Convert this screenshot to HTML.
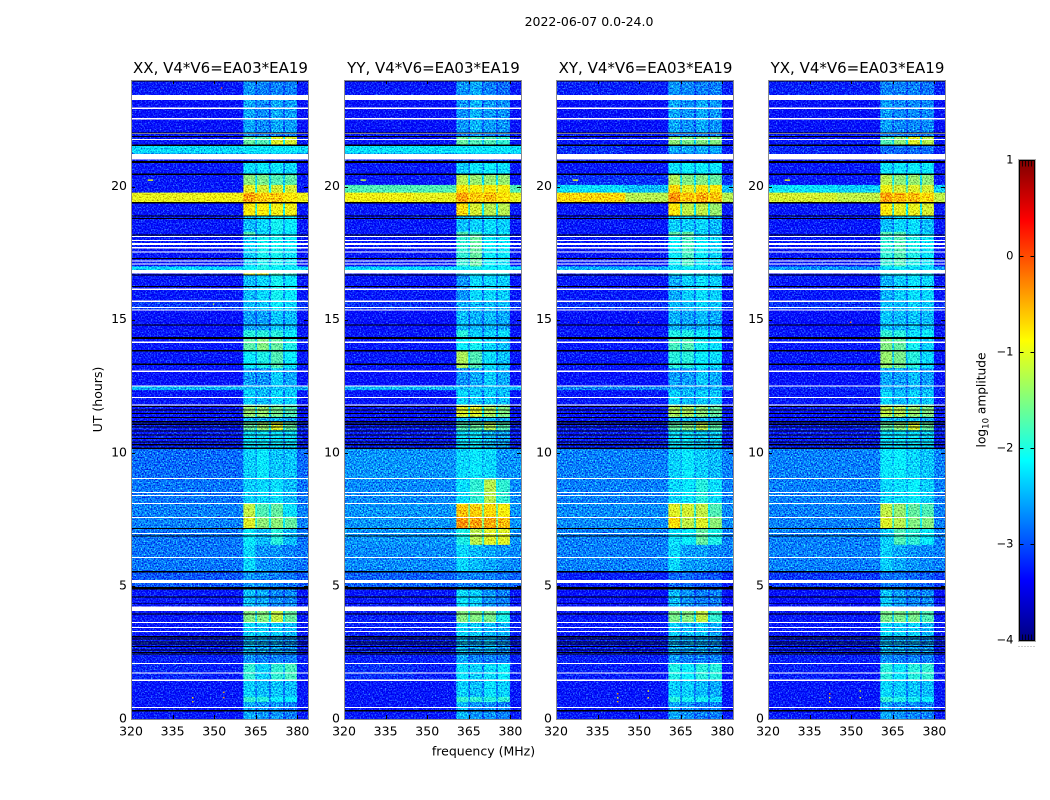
<!DOCTYPE html>
<html>
<head>
<meta charset="utf-8">
<title>2022-06-07 dynamic spectra</title>
<style>
html,body{margin:0;padding:0;background:#fff;}
svg{display:block;}
text{font-family:"DejaVu Sans",sans-serif;fill:#000;}
.tick{font-size:12.5px;}
.title{font-size:15px;}
</style>
</head>
<body>
<svg id="chart" xmlns="http://www.w3.org/2000/svg" width="1050" height="800" viewBox="0 0 1050 800">
  <defs>
    <filter id="cell-noise" x="0" y="0" width="100%" height="100%" color-interpolation-filters="sRGB">
      <feTurbulence type="fractalNoise" baseFrequency="0.68" numOctaves="2" seed="7" result="raw"/>
      <feColorMatrix in="raw" type="matrix" values="0.8 0 0 0 0.1  1.7 0 0 0 -0.35  0.6 0 0 0 0.2  0 0 0 0 1" result="grain"/>
      <feComposite in="SourceGraphic" in2="grain" operator="arithmetic" k1="0" k2="1" k3="1" k4="-0.5"/>
    </filter>
    <linearGradient id="colorbar-gradient" x1="0" y1="1" x2="0" y2="0"></linearGradient>
  </defs>
  <text x="589" y="26" text-anchor="middle" class="tick">2022-06-07 0.0-24.0</text>
  <text x="483.5" y="755.5" text-anchor="middle" class="tick">frequency (MHz)</text>
  <text transform="translate(102,399.5) rotate(-90)" text-anchor="middle" class="tick">UT (hours)</text>
  <text transform="translate(985.5,400) rotate(-90)" text-anchor="middle" font-size="12.2">log<tspan dy="3" font-size="8.5">10</tspan><tspan dy="-3"> amplitude</tspan></text>
  <g id="panels"></g>
  <g id="colorbar"></g>
</svg>
<script>
// Time edges of each row, hours UT, top to bottom.
const rowEdges = [24,23.25,22,21.87,21.55,21.23,20.9,20.43,20.06,19.77,19.39,18.9,18.3,18.18,17,16.86,16.68,15.7,15.36,14.6,14.31,13.83,13.18,12.5,12.35,11.79,11.35,11.17,10.85,10.17,9,8.1,7.6,7.15,6.54,5.53,4.91,4.22,3.63,3.09,2.44,2.09,1.46,0.83,0.64,0];

// Each row: log10 amplitude for [background 320-345, background 345-360, band1, band2, band3, band4]
const seriesXX = [
[-3.3,-3.3,-2.65,-2.75,-2.75,-2.75],[-3.35,-3.35,-2.55,-2.7,-2.55,-2.6],[-3.3,-3.3,-2.75,-2.75,-2.75,-2.75],[-3.3,-3.3,-1.65,-1.75,-1.05,-1.1],
[-2.3,-2.3,-2.2,-2.2,-2.2,-2.2],[-3.3,-3.3,-3.1,-3.1,-3.1,-3.1],[-3.3,-3.3,-2.25,-2.2,-2.2,-2.3],[-3.3,-3.3,-1.45,-1.55,-1.75,-1.7],
[-3.3,-3.3,-1,-1.1,-1.1,-1.1],[-1,-0.95,-0.4,-0.6,-0.6,-0.8],[-3.3,-3.3,-0.85,-0.85,-0.95,-0.95],[-3.3,-3.3,-2.45,-2.3,-2.05,-2.15],
[-3.3,-3.3,-1.75,-2.35,-2.15,-2.25],[-3.3,-3.3,-2.35,-2.05,-2.05,-2.2],[-2.3,-2.3,-2.1,-2,-2.1,-2.1],[-3.3,-3.3,-1,-1,-1.75,-1.9],
[-3.3,-3.3,-2.45,-2.3,-2.05,-2.2],[-3.1,-3.1,-2.45,-2.4,-2.2,-2.3],[-3.35,-3.35,-2.6,-2.6,-2.4,-2.45],[-3.3,-3.3,-1.95,-1.95,-1.95,-2.15],
[-3.3,-3.3,-1.7,-1.5,-1.65,-2],[-3.3,-3.3,-2.15,-2,-1.75,-2.15],[-3.35,-3.35,-2.6,-2.65,-2.35,-2.55],[-2.5,-2.5,-2.45,-2.45,-2.45,-2.45],
[-3.3,-3.3,-2.35,-2.45,-2.3,-2.35],[-3.3,-3.3,-1.4,-1.4,-1.55,-1.75],[-3.3,-3.3,-2.45,-2.45,-2.45,-2.55],[-3.25,-3.25,-1.65,-1.4,-1.05,-1.65],
[-3.25,-3.25,-2.2,-2.2,-2.25,-2.25],[-2.85,-2.85,-2.35,-2.2,-2.4,-2.4],[-2.8,-2.8,-2.35,-2.3,-2.25,-2.45],[-2.75,-2.75,-1.2,-1.75,-1.65,-2.25],
[-2.75,-2.75,-1.05,-1.45,-1.45,-1.65],[-2.8,-2.8,-2.2,-2.45,-1.95,-2.45],[-2.8,-2.8,-2.3,-2.65,-2.65,-2.75],[-2.95,-2.95,-2.65,-2.7,-2.75,-2.8],
[-3.3,-3.3,-2.45,-2.55,-2.7,-2.7],[-3.3,-3.3,-1.5,-1.5,-1.2,-1.65],[-3.3,-3.3,-2.3,-2.35,-2.35,-2.45],[-3.25,-3.25,-2.45,-2.55,-2.55,-2.65],
[-3.25,-3.25,-2.65,-2.75,-2.75,-2.75],[-3.2,-3.25,-1.9,-2.35,-1.9,-1.8],[-3.3,-3.3,-2.35,-2.45,-2.4,-2.45],[-3.3,-3.3,-1.9,-1.95,-2.15,-2.15],[-3.3,-3.3,-2.55,-2.65,-2.65,-2.75]
];
const seriesYY = [
[-3.3,-3.3,-2.65,-2.55,-2.75,-2.85],[-3.35,-3.35,-2.65,-2.5,-2.6,-2.65],[-3.3,-3.3,-2.75,-2.65,-2.75,-2.75],[-3.3,-3.3,-1.65,-1.75,-1.75,-1.9],
[-2.25,-2.25,-2.2,-2.2,-2.2,-2.2],[-3.3,-3.3,-3.1,-3.1,-3.1,-3.1],[-3.3,-3.3,-2.35,-2.2,-2.15,-2.25],[-3.3,-3.3,-1.25,-1.4,-1.4,-1.4],
[-1.75,-1.75,-0.8,-0.85,-0.85,-0.9],[-0.95,-1,-0.4,-0.6,-0.55,-0.75],[-3.3,-3.3,-0.75,-1.1,-1.25,-1.25],[-3.3,-3.3,-2.45,-2.35,-2.25,-2.35],
[-3.3,-3.3,-1.75,-1.9,-2.25,-2.25],[-3.3,-3.3,-1.9,-1.65,-2.15,-2.2],[-2.3,-2.3,-2.15,-2.05,-2.15,-2.15],[-3.3,-3.3,-2.25,-2.15,-2.15,-2.15],
[-3.3,-3.3,-2.65,-2.3,-2.3,-2.35],[-3.15,-3.15,-2.55,-2.45,-2.45,-2.45],[-3.35,-3.35,-2.45,-2.5,-2.45,-2.55],[-3.3,-3.3,-1.95,-2.35,-2.35,-2.25],
[-3.3,-3.3,-2.15,-2.05,-2.3,-2.45],[-3.3,-3.3,-1.3,-1.75,-2.25,-2.4],[-3.35,-3.35,-2.65,-2.55,-2.35,-2.55],[-2.5,-2.5,-2.45,-2.45,-2.45,-2.45],
[-3.3,-3.3,-2.3,-2.4,-2.35,-2.45],[-3.3,-3.3,-1.05,-1.05,-1.3,-1.5],[-3.3,-3.3,-2.45,-2.45,-2.45,-2.55],[-3.25,-3.25,-1.75,-1.65,-1.3,-1.75],
[-3.25,-3.25,-2.25,-2.2,-2.45,-2.55],[-2.65,-2.65,-2.3,-2.2,-2.3,-2.65],[-2.7,-2.7,-2.25,-1.9,-1.25,-1.9],[-2.65,-2.65,-0.6,-0.65,-0.7,-0.9],
[-2.65,-2.65,-0.35,-0.4,-0.45,-0.55],[-2.65,-2.65,-2,-1.25,-1.05,-1.05],[-2.7,-2.7,-2.3,-2.45,-2.55,-2.65],[-2.9,-2.9,-2.75,-2.75,-2.75,-2.8],
[-3.3,-3.3,-2.25,-2.35,-2.65,-2.75],[-3.25,-3.25,-1.5,-1.5,-1.55,-2],[-3.25,-3.25,-2.3,-2.35,-2.45,-2.5],[-3.25,-3.25,-2.45,-2.55,-2.45,-2.65],
[-3.25,-3.25,-2.55,-2.75,-2.75,-2.75],[-3.15,-3.25,-2.25,-2.35,-2.25,-2.15],[-3.3,-3.3,-2.35,-2.45,-2.25,-2.35],[-3.3,-3.3,-1.9,-1.9,-1.95,-1.9],[-3.3,-3.3,-2.45,-2.65,-2.65,-2.75]
];
const seriesXY = [
[-3.25,-3.25,-2.65,-2.7,-2.75,-2.75],[-3.35,-3.35,-2.55,-2.65,-2.55,-2.65],[-3.3,-3.3,-2.75,-2.75,-2.75,-2.75],[-3.3,-3.3,-1.45,-1.55,-1.5,-1.5],
[-3.15,-3.25,-2.55,-2.55,-2.55,-2.55],[-3.3,-3.3,-3.1,-3.1,-3.1,-3.1],[-3.3,-3.3,-2.25,-2.15,-2.15,-2.2],[-3.15,-3.15,-1.3,-1.5,-1.5,-1.65],
[-2.25,-2.45,-0.7,-1,-0.8,-0.8],[-0.7,-1.25,-0.35,-0.55,-0.45,-0.6],[-3.3,-3.3,-0.8,-1.2,-1.2,-1.4],[-3.3,-3.3,-2.35,-2.35,-2.3,-2.45],
[-3.3,-3.3,-1.7,-1.65,-2.35,-2.45],[-3.3,-3.3,-2.15,-1.8,-2.15,-2.3],[-2.5,-2.5,-2.25,-2.15,-2.25,-2.25],[-3.3,-3.3,-2.15,-2.15,-2.25,-2.25],
[-3.3,-3.3,-2.55,-2.35,-2.25,-2.35],[-3.15,-3.15,-2.45,-2.45,-2.3,-2.4],[-3.35,-3.35,-2.5,-2.55,-2.45,-2.55],[-3.3,-3.3,-2,-2,-2.2,-2.25],
[-3.3,-3.3,-1.8,-1.75,-2.05,-2.25],[-3.3,-3.3,-1.95,-1.95,-2.15,-2.25],[-3.35,-3.35,-2.6,-2.6,-2.4,-2.55],[-2.75,-2.75,-2.55,-2.55,-2.55,-2.55],
[-3.3,-3.3,-2.35,-2.45,-2.35,-2.4],[-3.3,-3.3,-1.3,-1.3,-1.45,-1.65],[-3.3,-3.3,-2.45,-2.45,-2.45,-2.55],[-3.25,-3.25,-1.7,-1.5,-1.25,-1.7],
[-3.25,-3.25,-2.25,-2.2,-2.35,-2.35],[-2.75,-2.75,-2.35,-2.2,-2.35,-2.45],[-2.75,-2.75,-2.3,-2.2,-1.95,-2.25],[-2.7,-2.7,-1.05,-1.1,-1.2,-1.75],
[-2.7,-2.7,-0.75,-1.2,-1.05,-1.45],[-2.75,-2.75,-2.25,-2.15,-1.65,-2],[-2.75,-2.75,-2.3,-2.6,-2.6,-2.7],[-3.25,-3.25,-2.85,-2.85,-2.95,-2.95],
[-3.35,-3.35,-2.45,-2.65,-2.75,-2.75],[-3.3,-3.3,-1.55,-1.5,-1.2,-1.9],[-3.3,-3.3,-2.35,-2.45,-2.4,-2.55],[-3.25,-3.25,-2.5,-2.55,-2.55,-2.65],
[-3.25,-3.25,-2.65,-2.75,-2.75,-2.75],[-3.25,-3.3,-2,-2.15,-1.95,-1.95],[-3.3,-3.3,-2.35,-2.35,-2.45,-2.55],[-3.3,-3.3,-1.95,-2.05,-2.05,-2.25],[-3.3,-3.3,-2.55,-2.65,-2.75,-2.75]
];
const seriesYX = [
[-3.25,-3.25,-2.75,-2.75,-2.75,-2.8],[-3.35,-3.35,-2.6,-2.7,-2.7,-2.7],[-3.3,-3.3,-2.75,-2.75,-2.75,-2.75],[-3.3,-3.3,-1.75,-1.45,-1.05,-1.25],
[-3.2,-3.25,-2.85,-2.85,-2.85,-2.85],[-3.3,-3.3,-3.1,-3.1,-3.1,-3.1],[-3.3,-3.3,-2.25,-2.2,-2.15,-2.2],[-3.3,-3.3,-1.25,-1.45,-1.4,-1.45],
[-2.25,-2.35,-0.95,-1.1,-1.05,-1.1],[-1.1,-1.2,-0.4,-0.5,-0.55,-0.7],[-3.3,-3.3,-0.8,-1,-1,-1.1],[-3.3,-3.3,-2.45,-2.3,-2.25,-2.45],
[-3.3,-3.3,-1.75,-1.75,-2.25,-2.35],[-3.3,-3.3,-1.9,-1.75,-2,-2.2],[-2.65,-2.65,-2.25,-2.15,-2.25,-2.25],[-3.3,-3.3,-2.15,-2.05,-2.15,-2.2],
[-3.3,-3.3,-2.5,-2.35,-2.25,-2.3],[-3.15,-3.15,-2.45,-2.45,-2.35,-2.4],[-3.35,-3.35,-2.4,-2.45,-2.4,-2.45],[-3.3,-3.3,-1.9,-1.95,-2.25,-2.15],
[-3.3,-3.3,-1.5,-1.65,-2.05,-2.35],[-3.3,-3.3,-1.4,-1.55,-1.95,-2.3],[-3.35,-3.35,-2.55,-2.6,-2.45,-2.6],[-3.2,-3.2,-2.55,-2.55,-2.55,-2.55],
[-3.3,-3.3,-2.3,-2.45,-2.35,-2.4],[-3.3,-3.3,-1.2,-1.25,-1.4,-1.5],[-3.3,-3.3,-2.45,-2.45,-2.45,-2.55],[-3.25,-3.25,-1.65,-1.45,-1.1,-1.65],
[-3.25,-3.25,-2.25,-2.2,-2.25,-2.3],[-2.75,-2.75,-2.2,-2.15,-2.3,-2.4],[-2.75,-2.75,-2.3,-2.25,-2.15,-2.35],[-2.75,-2.75,-1.2,-1.4,-1.65,-1.75],
[-2.75,-2.75,-1.05,-1.25,-1.5,-1.5],[-2.75,-2.75,-2.35,-1.75,-1.9,-2.15],[-2.75,-2.75,-2.35,-2.55,-2.65,-2.7],[-3.1,-3.1,-2.8,-2.8,-2.85,-2.9],
[-3.35,-3.35,-2.4,-2.6,-2.7,-2.7],[-3.3,-3.3,-1.55,-1.55,-1.55,-1.75],[-3.3,-3.3,-2.3,-2.35,-2.35,-2.5],[-3.25,-3.25,-2.45,-2.55,-2.55,-2.65],
[-3.25,-3.25,-2.65,-2.75,-2.75,-2.75],[-3.25,-3.3,-1.95,-2.2,-1.95,-1.9],[-3.3,-3.3,-2.3,-2.35,-2.4,-2.45],[-3.3,-3.3,-1.9,-2,-2.05,-2.15],[-3.3,-3.3,-2.55,-2.65,-2.7,-2.75]
];

// Flagged time ranges [top hour, bottom hour].
const whiteFlags = [[23.44,23.25],[22.96,22.92],[22.57,22.52],[22,21.97],[21.79,21.75],[21.23,21.02],[18.14,18.1],[17.99,17.95],[17.87,17.81],[17.72,17.68],[17.56,17.52],[17.23,17.19],[17.11,17.07],[16.86,16.74],[16.16,16.12],[15.72,15.67],[15.47,15.43],[15.38,15.34],[14.17,14.13],[13.08,13.04],[12.52,12.48],[12.1,12.06],[11.82,11.78],[9.06,9.02],[8.52,8.48],[8.41,8.37],[8.12,8.08],[7.59,7.55],[6.98,6.94],[6.09,6.05],[5.22,5.1],[4.22,4.06],[3.65,3.61],[3.46,3.42],[3.31,3.27],[2.11,2.07],[1.74,1.7],[1.48,1.43],[0.46,0.42]];
const blackFlags = [[24,23.95],[22.03,22],[21.89,21.85],[21.57,21.53],[20.96,20.89],[20.48,20.44],[19.41,19.37],[18.92,18.88],[18.82,18.78],[18.2,18.16],[17.31,17.27],[16.7,16.66],[16.26,16.22],[14.82,14.78],[14.34,14.28],[13.86,13.8],[13.35,13.29],[11.75,11.71],[11.62,11.58],[11.5,11.46],[11.35,11.31],[11.2,11.14],[11.09,11.05],[10.98,10.94],[10.84,10.8],[10.69,10.65],[10.56,10.52],[10.43,10.39],[10.33,10.27],[10.19,10.15],[7.17,7.13],[6.89,6.85],[5.56,5.5],[4.95,4.87],[4.6,4.56],[4.35,4.33],[3.96,3.92],[3.11,3.07],[3.02,2.98],[2.92,2.88],[2.83,2.79],[2.74,2.7],[2.61,2.57],[2.52,2.48],[2.46,2.42],[0.34,0.28]];

// Narrow interference features [panel, start MHz, end MHz, hour, level].
const spikes = [
[0,326,328,20.24,-1.0],[1,326,328,20.24,-1.2],[2,326,328,20.24,-1.0],[3,326,328,20.24,-1.0],
[0,349.5,350,15.58,-1.1],[0,352.4,352.9,23.7,-0.1],[2,349.5,350,14.9,-0.2],[3,349.5,350,14.9,-0.2],
[0,342,342.5,0.8,-0.7],[0,342,342.5,0.65,-0.6],[0,353.2,353.7,1.0,-0.5],[0,353.2,353.7,0.8,-0.4],
[2,342,342.5,0.95,-0.3],[2,342,342.5,0.8,-0.8],[2,342,342.5,0.65,-0.5],[2,353,353.5,1.05,-0.9],[2,353,353.5,0.8,-0.7],
[3,342,342.5,0.95,-0.3],[3,342,342.5,0.8,-0.8],[3,342,342.5,0.65,-0.6],[3,353,353.5,1.05,-1.0],[3,353,353.5,0.8,-1.0]
];

const panelNames = ["XX","YY","XY","YX"];
const panelSeries = [seriesXX,seriesYY,seriesXY,seriesYX];
const panelLefts = [131,344,556,768];
const freqTicks = [320,335,350,365,380];
const timeTicks = [0,5,10,15,20];
const colorbarTicks = [1,0,-1,-2,-3,-4];
const colorbarTickLabels = ["1","0","\u22121","\u22122","\u22123","\u22124"];

const NS = "http://www.w3.org/2000/svg";
const PLOT_TOP = 80, PLOT_BOTTOM = 719, PLOT_W = 177;
const F_MIN = 320, F_MAX = 383.8, T_MIN = 0, T_MAX = 24, L_MIN = -4, L_MAX = 1;

function yOf(t){ return PLOT_BOTTOM - (t - T_MIN) / (T_MAX - T_MIN) * (PLOT_BOTTOM - PLOT_TOP); }
function xOf(f, left){ return left + (f - F_MIN) / (F_MAX - F_MIN) * PLOT_W; }
function ramp(x){ return Math.max(0, Math.min(1, x)); }
function jet(level){
  const v = (level - L_MIN) / (L_MAX - L_MIN);
  const r = ramp(Math.min(4 * v - 1.5, -4 * v + 4.5));
  const g = ramp(Math.min(4 * v - 0.5, -4 * v + 3.5));
  const b = ramp(Math.min(4 * v + 0.5, -4 * v + 2.5));
  return "rgb(" + Math.round(r * 255) + "," + Math.round(g * 255) + "," + Math.round(b * 255) + ")";
}
function make(tag, attrs, parent){
  const el = document.createElementNS(NS, tag);
  for (const k in attrs) el.setAttribute(k, attrs[k]);
  parent.appendChild(el);
  return el;
}

const root = document.getElementById("panels");

panelNames.forEach(function(name, p){
  const left = panelLefts[p];
  const rows = panelSeries[p];
  const g = make("g", {}, root);
  
  

  const clipId = "clip-" + name;
  const clip = make("clipPath", {id: clipId}, g);
  make("rect", {x: left, y: PLOT_TOP, width: PLOT_W, height: PLOT_BOTTOM - PLOT_TOP}, clip);
  const body = make("g", {"clip-path": "url(#" + clipId + ")"}, g);
  const cells = make("g", {filter: "url(#cell-noise)"}, body);
  
  

  rows.forEach(function(row, r){
    const top = yOf(rowEdges[r]);
    const bot = yOf(rowEdges[r + 1]);
    const bg = row[1];
    const gap = function(a, b){ return bg * 0.45 + (row[a] + row[b]) / 2 * 0.55; };
    const cols = [
      [320, 345, row[0]], [345, 360.5, row[1]],
      [360.5, 364.8, row[2]], [364.8, 365.4, gap(2, 3)],
      [365.4, 369.7, row[3]], [369.7, 370.5, gap(3, 4)],
      [370.5, 374.8, row[4]], [374.8, 375.5, gap(4, 5)],
      [375.5, 379.8, row[5]], [379.8, 383.8, row[1]]
    ];
    cols.forEach(function(c){
      const x0 = xOf(c[0], left), x1 = xOf(c[1], left);
      const cell = make("rect", {x: x0.toFixed(2), y: top.toFixed(2), width: (x1 - x0 + 0.3).toFixed(2), height: (bot - top + 0.3).toFixed(2), fill: jet(c[2])}, cells);
      
      
    });
  });

  spikes.filter(function(s){ return s[0] === p; }).forEach(function(s){
    const x0 = xOf(s[1], left), x1 = xOf(s[2], left);
    const spike = make("rect", {x: x0.toFixed(2), y: (yOf(s[3]) - 0.7).toFixed(2), width: (x1 - x0).toFixed(2), height: 1.4, fill: jet(s[4])}, body);
    
    
  });

  whiteFlags.forEach(function(f){
    const line = make("rect", {x: left, y: yOf(f[0]).toFixed(2), width: PLOT_W, height: (yOf(f[1]) - yOf(f[0])).toFixed(2), fill: "#fff", "shape-rendering": "crispEdges"}, body);
    
    
  });
  blackFlags.forEach(function(f){
    const line = make("rect", {x: left, y: yOf(f[0]).toFixed(2), width: PLOT_W, height: (yOf(f[1]) - yOf(f[0])).toFixed(2), fill: "#000", "shape-rendering": "crispEdges"}, body);
    
    
  });

  freqTicks.forEach(function(f){
    const x = Math.round(xOf(f, left)) + 0.5;
    [[PLOT_BOTTOM, PLOT_BOTTOM - 4], [PLOT_TOP, PLOT_TOP + 4]].forEach(function(t){
      const tick = make("line", {x1: x, x2: x, y1: t[0], y2: t[1], stroke: "#000", "stroke-width": 1}, g);
      
      
    });
    const label = make("text", {x: xOf(f, left), y: 735.5, "text-anchor": "middle", "class": "tick"}, g);
    
    
    label.textContent = f;
  });
  timeTicks.forEach(function(t){
    const y = Math.round(yOf(t)) + 0.5;
    [[left, left + 4], [left + PLOT_W, left + PLOT_W - 4]].forEach(function(e){
      const tick = make("line", {x1: e[0], x2: e[1], y1: y, y2: y, stroke: "#000", "stroke-width": 1}, g);
      
      
    });
    const label = make("text", {x: left - 4, y: yOf(t) + 3.5, "text-anchor": "end", "class": "tick"}, g);
    
    
    label.textContent = t;
  });

  const frame = make("rect", {x: left + 0.5, y: PLOT_TOP + 0.5, width: PLOT_W, height: PLOT_BOTTOM - PLOT_TOP, fill: "none", stroke: "#8c8c8c", "stroke-width": 1}, g);
  
  

  const title = make("text", {x: left + PLOT_W / 2 + 1, y: 73, "text-anchor": "middle", "class": "title"}, g);
  
  
  title.textContent = name + ", V4*V6=EA03*EA19";
});

// Colorbar
const cbar = document.getElementById("colorbar");
const CB_X = 1019.5, CB_W = 15, CB_TOP = 160.5, CB_BOTTOM = 640.5;
function cbY(v){ return CB_BOTTOM - (v - L_MIN) / (L_MAX - L_MIN) * (CB_BOTTOM - CB_TOP); }
const grad = document.getElementById("colorbar-gradient");
for (let i = 0; i <= 40; i++) {
  const stop = document.createElementNS(NS, "stop");
  stop.setAttribute("offset", i / 40);
  stop.setAttribute("stop-color", jet(L_MIN + (L_MAX - L_MIN) * i / 40));
  grad.appendChild(stop);
}
const bar = make("rect", {x: CB_X, y: CB_TOP, width: CB_W, height: CB_BOTTOM - CB_TOP, fill: "url(#colorbar-gradient)", stroke: "#000", "stroke-width": 1}, cbar);


const cbFrame = make("rect", {x: CB_X - 1, y: CB_TOP - 1, width: CB_W + 2, height: CB_BOTTOM - CB_TOP + 2, fill: "none", stroke: "#aaa", "stroke-width": 1}, cbar);


colorbarTicks.forEach(function(v, i){
  const y = Math.floor(cbY(v)) + 0.5;
  [[CB_X, CB_X + 4], [CB_X + CB_W, CB_X + CB_W - 4]].forEach(function(e){
    const tick = make("line", {x1: e[0], x2: e[1], y1: y, y2: y, stroke: "#000", "stroke-width": 1}, cbar);
    
    
  });
  const label = make("text", {x: CB_X - 6, y: cbY(v) + 3, "text-anchor": "end", "font-size": "11.5px"}, cbar);
  
  
  label.textContent = colorbarTickLabels[i];
});
[[CB_TOP, CB_TOP + 6], [CB_BOTTOM, CB_BOTTOM - 6]].forEach(function(e){
  for (let i = 1; i <= 4; i++) {
    const x = CB_X + i * CB_W / 5;
    const minor = make("line", {x1: x, x2: x, y1: e[0], y2: e[1], stroke: "#000", "stroke-width": 0.8}, cbar);
    
    
  }
});
const dots = make("line", {x1: CB_X - 1, x2: CB_X + CB_W, y1: 646.5, y2: 646.5, stroke: "#999", "stroke-width": 1, "stroke-dasharray": "1 2"}, cbar);


</script>
</body>
</html>
